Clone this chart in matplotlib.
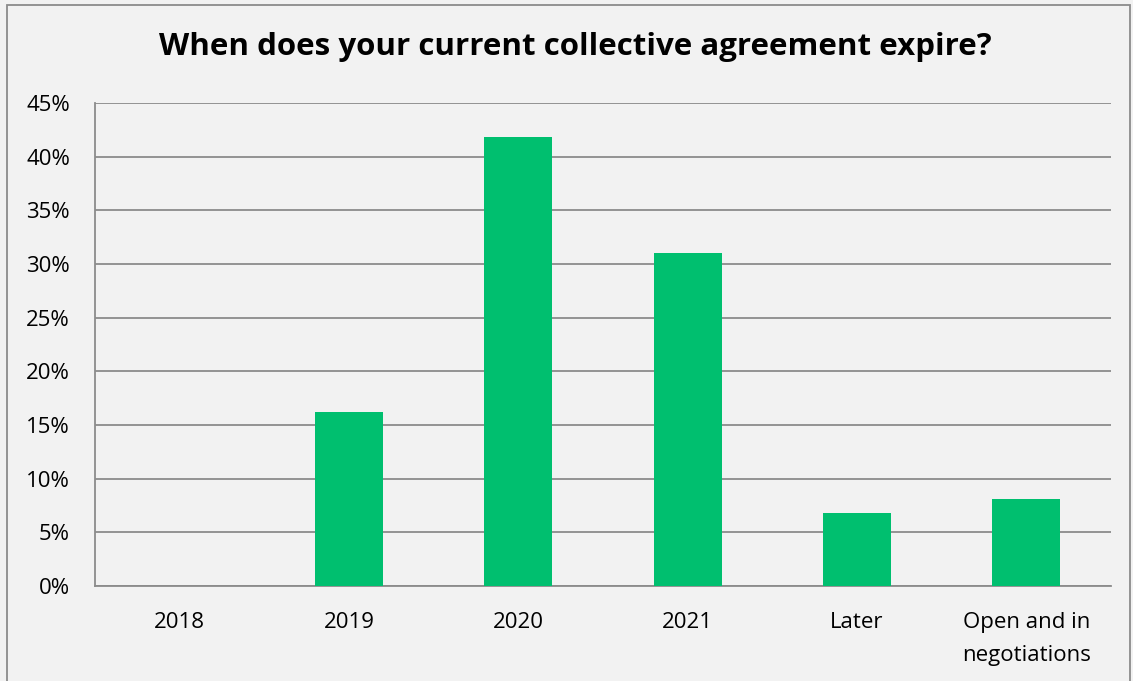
import matplotlib
matplotlib.use("Agg")
import matplotlib.pyplot as plt
from matplotlib.patches import Rectangle
from matplotlib.ticker import MultipleLocator, FuncFormatter

categories = ["2018", "2019", "2020", "2021", "Later", "Open and in\nnegotiations"]
shares = [0.0, 16.2, 41.8, 31.0, 6.8, 8.1]
title = "When does your current collective agreement expire?"

BG = "#f2f2f2"
BAR = "#00bf6f"
GRID = "#8c8c8c"

plt.rcParams["font.family"] = ["Open Sans", "DejaVu Sans"]

fig = plt.figure(figsize=(11.33, 6.81), dpi=100, facecolor=BG)
ax = fig.add_axes([95 / 1133, 1 - 586 / 681, (1111 - 95) / 1133, (586 - 103) / 681])
ax.set_facecolor(BG)

x = range(len(categories))
ax.bar(x, shares, width=0.4, color=BAR, zorder=3)

ax.set_xlim(-0.5, len(categories) - 0.5)
ax.set_ylim(0, 45)
ax.yaxis.set_major_locator(MultipleLocator(5))
ax.yaxis.set_major_formatter(FuncFormatter(lambda v, _: f"{v:.0f}%"))
ax.set_xticks(list(x))
ax.set_xticklabels(categories, fontsize=16, color="#000000", linespacing=1.75)
ax.tick_params(axis="y", labelsize=16, length=0, pad=18, labelcolor="#000000")
ax.tick_params(axis="x", length=0, pad=19)

ax.grid(axis="y", color=GRID, linewidth=1.3, zorder=0)
for side in ("top", "right"):
    ax.spines[side].set_visible(False)
for side in ("left", "bottom"):
    ax.spines[side].set_color(GRID)
    ax.spines[side].set_linewidth(1.3)

fig.text(575 / 1133, 1 - 47 / 681, title, ha="center", va="center",
         fontsize=22.5, fontweight="bold", color="#000000")

fig.patches.append(Rectangle((7 / 1133, -0.01), (1130 - 7) / 1133, (681 - 5) / 681 + 0.01,
                             transform=fig.transFigure, fill=False,
                             edgecolor="#8c8c8c", linewidth=1.3))

fig.savefig("out.png", dpi=100, facecolor=BG)
